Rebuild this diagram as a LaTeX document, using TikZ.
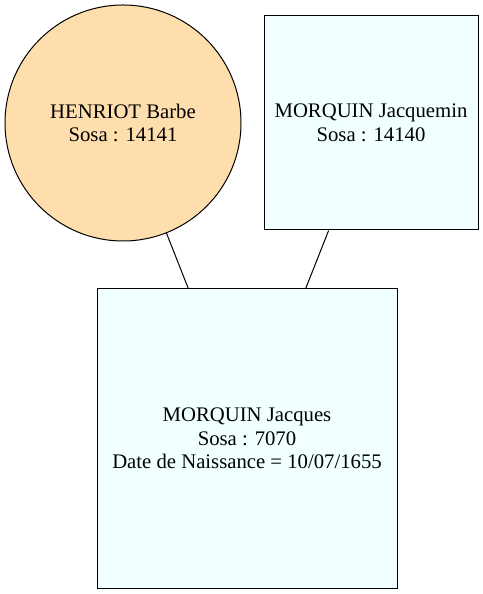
\documentclass[tikz,border=0pt]{standalone}
\usepackage{fontspec}
\setmainfont{Liberation Serif}
\definecolor{navajo}{HTML}{FFDEAD}
\definecolor{azure}{HTML}{F0FFFF}
\begin{document}
\begin{tikzpicture}[x=1bp,y=1bp]
    \tikzstyle{every node}+=[inner sep=0pt, align=center, font=\rmfamily\fontsize{20.8}{23.8}\selectfont]
    \tikzstyle{femme}=[circle, draw=black, fill=navajo, line width=1bp, minimum size=236bp]
    \tikzstyle{homme}=[rectangle, draw=black, fill=azure, line width=1bp]
    \useasboundingbox (0,0) rectangle (483,594);
    \node [femme] (barbe) at (123,471) {HENRIOT Barbe\\Sosa : 14141};
    \node [homme, minimum width=214bp, minimum height=214bp] (jacquemin) at (371,471) {MORQUIN Jacquemin\\Sosa : 14140};
    \node [homme, minimum width=300bp, minimum height=299bp] (jacques) at (247,155.5) {MORQUIN Jacques\\Sosa : 7070\\Date de Naissance = 10/07/1655};
    \draw [black, line width=1bp] (barbe) -- (jacques);
    \draw [black, line width=1bp] (jacquemin) -- (jacques);
  \end{tikzpicture}
\end{document}
